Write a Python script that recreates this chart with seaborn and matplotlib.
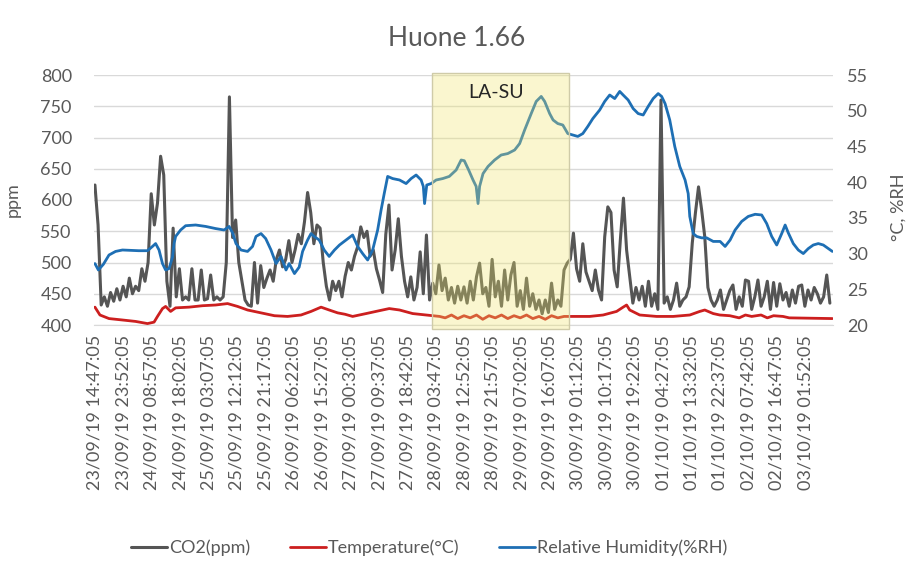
import matplotlib
matplotlib.use('Agg')
import matplotlib.pyplot as plt
import matplotlib.transforms as mtransforms
from matplotlib.patches import Rectangle
import pandas as pd
import seaborn as sns

# measurement start (first logged sample)
start = pd.Timestamp('2019-09-23 14:47:05')

# CO2 (ppm), one reading per hour from the start
co2 = [624, 560, 432, 445, 430, 452, 438, 458, 440, 462, 445, 475, 450, 462, 455, 490,
       470, 500, 610, 560, 595, 670, 640, 470, 430, 555, 445, 490, 440, 445, 440, 490,
       440, 440, 488, 440, 442, 480, 440, 445, 440, 445, 500, 765, 540, 568, 500, 470,
       440, 432, 430, 500, 435, 495, 460, 475, 488, 470, 505, 520, 493, 505, 535, 500,
       520, 545, 530, 565, 612, 580, 530, 560, 555, 500, 462, 440, 470, 455, 470, 445,
       478, 500, 488, 510, 525, 557, 540, 550, 510, 520, 490, 472, 452, 545, 592, 488,
       520, 570, 510, 470, 445, 477, 440, 460, 517, 450, 544, 440, 467, 450, 496, 455,
       475, 440, 460, 435, 462, 440, 461, 435, 470, 440, 477, 499, 450, 460, 430, 505,
       445, 470, 430, 488, 440, 480, 500, 430, 455, 425, 475, 430, 450, 425, 440, 418,
       440, 420, 467, 425, 440, 430, 488, 499, 505, 547, 490, 470, 530, 485, 470, 455,
       488, 456, 440, 541, 589, 580, 488, 461, 536, 603, 520, 477, 435, 460, 440, 462,
       430, 470, 430, 450, 425, 760, 435, 445, 425, 440, 467, 430, 440, 445, 461, 531,
       579, 621, 584, 541, 460, 440, 430, 440, 456, 425, 440, 455, 464, 425, 445, 430,
       472, 470, 425, 445, 472, 430, 445, 470, 425, 468, 430, 466, 440, 452, 430, 456,
       435, 462, 464, 430, 456, 440, 460, 450, 435, 445, 480, 435]

# relative humidity (%RH), hours from start and value
rh_hours = [0, 1.1, 2.7, 4.5, 6.6, 8.8, 14, 16.8, 18.4, 19.4, 20.5, 21.6, 22.6, 23.7, 24.8,
            25.3, 25.8, 27.4, 29, 32.2, 35.4, 38.6, 41.3, 42.9, 44.0, 45.1, 46.7, 48.8,
            50.4, 51.5, 53.1, 54.6, 56.3, 57.9, 59.5, 61.1, 62.1, 63.8, 65.3, 66.4, 68.0,
            69.1, 70.1, 71.7, 73.3, 74.9, 76.6, 78.2, 80.3, 82.4, 84.0, 85.6, 87.2, 88.8,
            90.4, 91.5, 92.5, 93.6, 95.2, 97.4, 99.5, 101.1, 102.7, 104.3, 105.0, 105.4,
            106.1, 107.5, 109.1, 111.2, 113.3, 115.5, 117.1, 118.1, 119.5, 120.9, 121.9,
            122.5, 123.0, 124.1, 125.7, 127.8, 129.9, 132.0, 134.2, 135.8, 137.4, 139.5,
            141.1, 142.7, 143.8, 145.4, 146.5, 148.0, 149.6, 151.2, 152.8, 154.4, 156.0,
            157.6, 159.2, 161.4, 163.0, 164.6, 166.2, 167.8, 168.9, 170.5, 172.1, 173.7,
            175.3, 176.9, 178.5, 180.1, 181.2, 182.3, 183.8, 185.4, 187.0, 188.7, 189.7,
            190.2, 191.3, 192.4, 194.0, 195.6, 197.7, 199.9, 201.5, 203.1, 204.7, 206.8,
            208.9, 211.1, 213.2, 214.8, 216.4, 218.0, 219.6, 220.7, 221.7, 223.3, 224.9,
            226.5, 228.1, 229.7, 231.3, 232.9, 234.5, 235.8]
rh = [28.6, 27.7, 28.5, 29.8, 30.3, 30.5, 30.4, 30.4, 31.0, 31.4, 30.5, 28.6, 27.7, 27.9, 29.5,
      31.4, 32.4, 33.3, 33.9, 34.0, 33.8, 33.5, 33.3, 33.8, 32.9, 31.4, 30.5, 30.3,
      31.0, 32.4, 32.8, 32.1, 30.5, 28.6, 29.6, 27.7, 28.6, 27.2, 28.1, 30.3, 31.9,
      32.8, 32.4, 31.9, 30.5, 29.6, 30.5, 31.2, 31.9, 32.6, 31.0, 30.0, 29.1, 30.5,
      33.3, 36.1, 38.4, 40.8, 40.5, 40.3, 39.8, 40.5, 41.0, 40.3, 39.4, 37.0,
      39.6, 39.8, 40.3, 40.5, 40.8, 41.7, 43.1, 43.0, 41.7, 40.3, 39.4,
      37.0, 39.4, 41.2, 42.2, 43.1, 43.8, 44.0, 44.5, 45.4, 47.3, 49.6,
      51.3, 52.0, 51.3, 49.6, 48.7, 48.2, 48.0, 46.8, 46.6, 46.4, 46.8,
      47.8, 48.9, 50.1, 51.3, 52.2, 51.7, 52.7, 52.2, 51.5, 50.3, 49.6,
      49.4, 50.6, 51.7, 52.4, 52.0, 51.0, 48.7, 45.0, 42.2, 40.3, 38.4,
      35.2, 32.8, 32.4, 32.2, 32.2, 31.7, 31.7, 31.0, 31.9, 33.3, 34.5,
      35.2, 35.5, 35.4, 34.2, 32.4, 31.2, 32.8, 34.0, 32.9, 31.4, 30.5,
      30.0, 30.7, 31.2, 31.4, 31.2, 30.7, 30.3]

# temperature (°C), hours from start and value
temp_hours = [0, 1.6, 4.5, 8.8, 13.0, 16.8, 18.9, 20.0, 21.6, 22.6, 24.2, 25.8, 30.1, 34.4,
              38.6, 42.4, 45.6, 48.8, 53.1, 57.4, 61.6, 65.9, 69.1, 72.3, 74.9, 77.6, 80,
              82.4, 86.7, 90.9, 94.1, 97.4, 101.6, 105.9, 110.2, 112, 114, 116, 118, 120,
              122, 124, 126, 128, 130, 132, 134, 136, 138, 140, 142, 144, 146, 148, 150,
              152, 158.2, 162.5, 166.8, 168.9, 170.0, 171.0, 174.2, 179.6, 184.9, 190.2,
              193.4, 195.0, 197.7, 199.8, 203, 206, 208, 210, 213, 215, 217, 220, 222, 235.8]
temp = [22.5, 21.4, 20.9, 20.7, 20.5, 20.2, 20.4, 21.2, 22.3, 22.6, 21.9, 22.4, 22.5, 22.7,
        22.8, 23.0, 22.6, 22.1, 21.7, 21.3, 21.2, 21.4, 21.9, 22.5, 22.1, 21.7, 21.5,
        21.2, 21.6, 22.0, 22.3, 22.1, 21.6, 21.4, 21.2, 21.0, 21.4, 20.9, 21.3, 21.0,
        21.4, 20.8, 21.3, 21.0, 21.4, 20.9, 21.3, 21.0, 21.4, 20.9, 21.2, 20.8, 21.3, 21.0, 21.2,
        21.2, 21.2, 21.4, 21.9, 22.5, 22.8, 22.1, 21.4, 21.2, 21.2, 21.4,
        21.9, 22.1, 21.6, 21.4, 21.3, 21.0, 21.4, 21.2, 21.4, 21.0, 21.3, 21.2, 21.0, 20.9]

tick_labels = ['23/09/19 14:47:05', '23/09/19 23:52:05', '24/09/19 08:57:05', '24/09/19 18:02:05',
               '25/09/19 03:07:05', '25/09/19 12:12:05', '25/09/19 21:17:05', '26/09/19 06:22:05',
               '26/09/19 15:27:05', '27/09/19 00:32:05', '27/09/19 09:37:05', '27/09/19 18:42:05',
               '28/09/19 03:47:05', '28/09/19 12:52:05', '28/09/19 21:57:05', '29/09/19 07:02:05',
               '29/09/19 16:07:05', '30/09/19 01:12:05', '30/09/19 10:17:05', '30/09/19 19:22:05',
               '01/10/19 04:27:05', '01/10/19 13:32:05', '01/10/19 22:37:05', '02/10/19 07:42:05',
               '02/10/19 16:47:05', '03/10/19 01:52:05']
weekend = ['28/09/19 02:25:00', '29/09/19 22:15:00']

co2_df = pd.DataFrame({'time': pd.date_range(start, periods=len(co2), freq='h'), 'ppm': co2})
rh_df = pd.DataFrame({'time': start + pd.to_timedelta(rh_hours, unit='h'), 'val': rh})
temp_df = pd.DataFrame({'time': start + pd.to_timedelta(temp_hours, unit='h'), 'val': temp})
fmt = '%d/%m/%y %H:%M:%S'
tick_pos = pd.to_datetime(tick_labels, format=fmt)
we = pd.to_datetime(weekend, format=fmt)

sns.set_style('white')
plt.rcParams['font.family'] = ['Lato', 'DejaVu Sans']
txt = '#595959'

fig = plt.figure(figsize=(9.13, 5.77), dpi=100)
ax = fig.add_axes([94 / 913, 1 - 325 / 577, 739 / 913, 250 / 577])
ax2 = ax.twinx()

c_co2, c_t, c_rh = '#555555', '#CC1F1F', '#1E6FB4'
sns.lineplot(data=co2_df, x='time', y='ppm', ax=ax, color=c_co2, lw=2.2, label='CO2(ppm)', legend=False)
sns.lineplot(data=temp_df, x='time', y='val', ax=ax2, color=c_t, lw=2.0, label='Temperature(°C)', legend=False)
sns.lineplot(data=rh_df, x='time', y='val', ax=ax2, color=c_rh, lw=2.0, label='Relative Humidity(%RH)', legend=False)

ax.set_xlim(start - pd.Timedelta(hours=0.3), start + pd.Timedelta(hours=236))
ax.set_ylim(400, 800)
ax.set_yticks(range(400, 801, 50))
ax2.set_ylim(20, 55)
ax2.set_yticks(range(20, 56, 5))
ax.set_xticks(tick_pos)
ax.set_xticklabels(tick_labels, rotation=90)

ax.grid(axis='y', color='#D9D9D9', lw=1)
ax.grid(axis='x', visible=False)
for a in (ax, ax2):
    for s in a.spines.values():
        s.set_visible(False)
ax.spines['bottom'].set_visible(True)
ax.spines['bottom'].set_color('#D9D9D9')
ax.tick_params(axis='both', length=0, labelsize=13, labelcolor=txt)
ax.tick_params(axis='y', pad=16)
ax.tick_params(axis='x', pad=7)
ax2.tick_params(axis='y', length=0, labelsize=13, labelcolor=txt, pad=10)

ax.set_xlabel('')
ax.set_ylabel('ppm', fontsize=13, color=txt)
ax.yaxis.set_label_coords(-0.099, 0.5)
ax2.set_ylabel('°C, %RH', fontsize=13, color=txt)
ax2.yaxis.set_label_coords(1.078, 0.47)

# weekend box (LA-SU)
trans = mtransforms.blended_transform_factory(ax2.transData, ax2.transAxes)
x0 = matplotlib.dates.date2num(we[0])
x1 = matplotlib.dates.date2num(we[1])
box = Rectangle((x0, -0.016), x1 - x0, 1.024, transform=trans, facecolor='#F0E66A',
                alpha=0.32, edgecolor='none', zorder=5, clip_on=False)
ax2.add_patch(box)
edge = Rectangle((x0, -0.016), x1 - x0, 1.024, transform=trans, facecolor='none',
                 edgecolor='#CFCBA8', lw=1, zorder=6, clip_on=False)
ax2.add_patch(edge)
ax2.text(start + pd.Timedelta(hours=128.4), 0.928, 'LA-SU', transform=trans,
         fontsize=14, color='#262626', ha='center', va='center', zorder=7)

fig.suptitle('Huone 1.66', x=0.5, y=0.955, fontsize=19, color=txt)

h1, l1 = ax.get_legend_handles_labels()
h2, l2 = ax2.get_legend_handles_labels()
fig.legend(h1 + h2, l1 + l2, loc='center', bbox_to_anchor=(0.47, 0.05), ncol=3, frameon=False,
           fontsize=13, labelcolor=txt, handlelength=2.0, handletextpad=0.1, columnspacing=2.2)

fig.savefig('out.png', dpi=100)
